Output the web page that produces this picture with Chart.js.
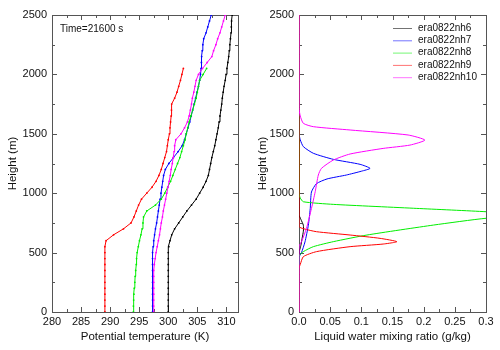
<!DOCTYPE html>
<html>
<head>
<meta charset="utf-8">
<script src="https://cdn.jsdelivr.net/npm/chart.js@4"></script>
<style>
  body { margin: 0; background: #fff; }
  #wrap { position: relative; width: 500px; height: 350px; }
  #wrap canvas { position: absolute; top: 0; }
</style>
</head>
<body>
<div id="wrap">
  <canvas id="thetaChart" width="250" height="350" style="left:0"></canvas>
  <canvas id="qlChart" width="250" height="350" style="left:250px"></canvas>
</div>
<script>
// runs, same colour in both panels
const runNames = ['era0822nh6', 'era0822nh7', 'era0822nh8', 'era0822nh9', 'era0822nh10'];
const runColors = ['#000000', '#0000ff', '#00ee00', '#ff0000', '#ff00ff'];
const timeLabel = 'Time=21600 s';

// left panel: model levels (m) and potential temperature (K)
const levels = [0, 50, 100, 150, 200, 250, 300, 350, 400, 450, 500, 550, 600, 650, 700, 750, 800, 850, 900, 950,
  1000, 1050, 1100, 1150, 1200, 1250, 1300, 1350, 1400, 1450, 1500, 1550, 1600, 1650, 1700, 1750, 1800, 1850, 1900, 1950,
  2000, 2050, 2100, 2150, 2200, 2250, 2300, 2350, 2400, 2450, 2500];
const thetaNh6 = [300.0, 300.0, 300.0, 300.0, 300.0, 300.0, 300.0, 300.0, 300.0, 300.0, 300.0,
  300.1, 300.3, 300.6, 301.1, 301.8, 302.5, 303.2, 304.0, 304.8, 305.4,
  306.0, 306.5, 306.9, 307.1, 307.3, 307.5, 307.75, 308.0, 308.2, 308.4,
  308.6, 308.75, 308.9, 309.05, 309.2, 309.3, 309.45, 309.6, 309.8, 309.95,
  310.1, 310.25, 310.4, 310.5, 310.6, 310.7, 310.8, 310.85, 310.9, 311.0];
const thetaNh7 = [297.3, 297.3, 297.3, 297.3, 297.3, 297.3, 297.3, 297.3, 297.3, 297.3, 297.3,
  297.4, 297.5, 297.65, 297.8, 298.0, 298.15, 298.3, 298.45, 298.6, 298.75,
  298.9, 299.05, 299.2, 299.5, 300.1, 300.9, 301.7, 302.4, 302.8, 303.1,
  303.4, 303.7, 303.95, 304.2, 304.45, 304.7, 304.95, 305.2, 305.4, 305.55,
  305.65, 305.7, 305.75, 305.85, 305.95, 306.1, 306.5, 306.8, 307.1, 307.4];
const thetaNh8 = [294.0, 294.0, 294.05, 294.1, 294.15, 294.25, 294.3, 294.4, 294.5, 294.55, 294.65,
  294.85, 295.05, 295.3, 295.5, 295.65, 295.75, 296.3, 297.8, 298.8, 299.4,
  299.9, 300.4, 300.8, 301.2, 301.6, 302.0, 302.3, 302.6, 302.9, 303.1,
  303.35, 303.6, 303.9, 304.2, 304.5, 304.8, 305.0, 305.2, 305.4, 306.0,
  306.6];
const thetaNh9 = [289.1, 289.1, 289.1, 289.1, 289.1, 289.1, 289.1, 289.1, 289.1, 289.1, 289.1,
  289.1, 289.3, 290.6, 292.3, 293.6, 294.1, 294.5, 294.9, 295.4, 296.3,
  297.2, 297.9, 298.4, 298.8, 299.1, 299.4, 299.7, 299.85, 300.0, 300.2,
  300.3, 300.4, 300.5, 300.55, 300.6, 301.1, 301.5, 301.8, 302.1, 302.35,
  302.6];
const thetaNh10 = [297.5, 297.5, 297.5, 297.5, 297.5, 297.5, 297.5, 297.5, 297.6, 297.75, 297.9,
  298.1, 298.3, 298.5, 298.65, 298.8, 299.0, 299.15, 299.35, 299.55, 299.75,
  299.95, 300.15, 300.35, 300.5, 300.7, 300.85, 301.0, 301.1, 301.3, 302.2,
  302.8, 303.3, 303.6, 303.8, 304.0, 304.15, 304.4, 304.6, 304.8, 305.2,
  305.9, 306.7, 307.5, 307.8, 308.2, 308.5, 308.9, 309.2, 309.5, 309.8];

// right panel: liquid water mixing ratio (g/kg) at heights (m)
const qlNh6H = [0, 480, 520, 560, 620, 680, 730, 780, 820, 2500];
const qlNh6 = [0, 0, 0.001, 0.003, 0.005, 0.007, 0.007, 0.003, 0, 0];
const qlNh7H = [0, 460, 500, 590, 730, 870, 1010, 1080, 1120, 1153, 1185, 1209, 1243, 1285, 1336, 1392, 1450, 1504, 2500];
const qlNh7 = [0, 0, 0.004, 0.0096, 0.015, 0.018, 0.020, 0.028, 0.045, 0.076, 0.100, 0.114, 0.098, 0.055, 0.023, 0.007, 0.002, 0, 0];
const qlNh8H = [0, 470, 508, 550, 592, 648, 732, 789, 815, 844, 872, 906, 928, 960, 1000, 2500];
const qlNh8 = [0, 0, 0.007, 0.023, 0.055, 0.109, 0.216, 0.30, 0.38, 0.30, 0.189, 0.055, 0.007, 0.002, 0, 0];
const qlNh9H = [0, 370, 400, 466, 508, 550, 572, 592, 620, 648, 676, 700, 720, 2500];
const qlNh9 = [0, 0, 0.002, 0.007, 0.028, 0.082, 0.135, 0.157, 0.13, 0.082, 0.028, 0.008, 0, 0];
const qlNh10H = [0, 550, 592, 704, 872, 1013, 1153, 1209, 1279, 1330, 1377, 1405, 1447, 1490, 1532, 1560, 1588, 1650, 1720, 2500];
const qlNh10 = [0, 0, 0.004, 0.012, 0.020, 0.026, 0.031, 0.036, 0.055, 0.082, 0.135, 0.178, 0.202, 0.175, 0.082, 0.023, 0.007, 0.002, 0, 0];

const FONT = '"Liberation Sans", Arial, sans-serif';
const thetaSeries = [thetaNh6, thetaNh7, thetaNh8, thetaNh9, thetaNh10];
const qlSeries = [[qlNh6H, qlNh6], [qlNh7H, qlNh7], [qlNh8H, qlNh8], [qlNh9H, qlNh9], [qlNh10H, qlNh10]];

// box round the plot with inward major/minor ticks on all four sides (gnuplot look)
const framePlugin = {
  id: 'frame',
  beforeDatasetsDraw(chart, args, opts) {
    const ctx = chart.ctx, a = chart.chartArea;
    const x = chart.scales.x, y = chart.scales.y;
    ctx.save();
    ctx.strokeStyle = '#555';
    ctx.lineWidth = 1;
    ctx.strokeRect(Math.round(a.left) + 0.5, Math.round(a.top) + 0.5, Math.round(a.width), Math.round(a.height));
    ctx.beginPath();
    for (let i = 0; x.min + i * opts.xMinor <= x.max + 1e-9; i++) {
      const px = Math.round(x.getPixelForValue(x.min + i * opts.xMinor)) + 0.5;
      const len = i % 2 ? 3 : 5;
      ctx.moveTo(px, a.bottom); ctx.lineTo(px, a.bottom - len);
      ctx.moveTo(px, a.top); ctx.lineTo(px, a.top + len);
    }
    for (let i = 0; y.min + i * opts.yMinor <= y.max + 1e-9; i++) {
      const py = Math.round(y.getPixelForValue(y.min + i * opts.yMinor)) + 0.5;
      const len = i % 2 ? 3 : 5;
      ctx.moveTo(a.left, py); ctx.lineTo(a.left + len, py);
      ctx.moveTo(a.right, py); ctx.lineTo(a.right - len, py);
    }
    ctx.stroke();
    ctx.restore();
  },
  afterDraw(chart, args, opts) {
    const ctx = chart.ctx, a = chart.chartArea;
    ctx.save();
    ctx.fillStyle = '#111';
    ctx.font = '10px ' + FONT;
    ctx.textBaseline = 'middle';
    if (opts.note) {
      ctx.fillText(opts.note, a.left + 8, a.top + 14);
    }
    if (opts.legend) {
      chart.data.datasets.forEach((ds, i) => {
        const yy = a.top + 13 + i * 12.3;
        ctx.strokeStyle = ds.borderColor;
        ctx.globalAlpha = 0.55;
        ctx.beginPath();
        ctx.moveTo(a.right - 93, yy + 0.5); ctx.lineTo(a.right - 74, yy + 0.5);
        ctx.stroke();
        ctx.globalAlpha = 1;
        ctx.fillText(ds.label, a.right - 68, yy);
      });
    }
    ctx.restore();
  }
};

function makeOptions(xMin, xMax, xStep, xTitle, yWidth, padRight, tickFmt, extra) {
  return {
    responsive: false,
    animation: false,
    events: [],
    layout: { padding: { top: 15, right: padRight, left: 0, bottom: 0 } },
    scales: {
      x: {
        type: 'linear', min: xMin, max: xMax,
        grid: { display: false, drawTicks: false, tickLength: 0 }, border: { display: false },
        ticks: { stepSize: xStep, includeBounds: false, padding: 3, color: '#111', maxRotation: 0,
                 autoSkip: false, font: { family: FONT, size: 11 }, callback: tickFmt },
        title: { display: true, text: xTitle, color: '#111', font: { family: FONT, size: 11.5 },
                 padding: { top: 0, bottom: 6 } },
        afterFit(s) { s.height = 38; }
      },
      y: {
        type: 'linear', min: 0, max: 2500,
        grid: { display: false, drawTicks: false, tickLength: 0 }, border: { display: false },
        ticks: { stepSize: 500, padding: 5, color: '#111', font: { family: FONT, size: 11 },
                 callback: v => String(v) },
        title: { display: true, text: 'Height (m)', color: '#111', font: { family: FONT, size: 11.5 },
                 padding: { top: 6, bottom: 0 } },
        afterFit(s) { s.width = yWidth; }
      }
    },
    plugins: { legend: { display: false }, tooltip: { enabled: false }, frame: extra }
  };
}

const thetaSets = thetaSeries.map((vals, i) => ({
  label: runNames[i],
  data: vals.map((v, k) => ({ x: v, y: levels[k] })),
  showLine: true,
  borderColor: runColors[i],
  backgroundColor: runColors[i],
  borderWidth: 1,
  pointRadius: 0.9,
  pointBorderWidth: 0,
  order: runNames.length - i
}));

new Chart(document.getElementById('thetaChart'), {
  type: 'scatter',
  data: { datasets: thetaSets },
  options: makeOptions(280, 312, 5, 'Potential temperature (K)', 52, 12, v => v,
    { xMinor: 2.5, yMinor: 250, note: timeLabel }),
  plugins: [framePlugin]
});

const qlSets = qlSeries.map(([hs, qs], i) => ({
  label: runNames[i],
  data: qs.map((v, k) => ({ x: v, y: hs[k] })),
  showLine: true,
  borderColor: runColors[i],
  backgroundColor: runColors[i],
  borderWidth: 1,
  pointRadius: 0,
  tension: 0.2,
  order: runNames.length - i
}));

new Chart(document.getElementById('qlChart'), {
  type: 'scatter',
  data: { datasets: qlSets },
  options: makeOptions(0, 0.3, 0.05, 'Liquid water mixing ratio (g/kg)', 49, 14,
    v => (v === 0 ? '0.0' : String(+v.toFixed(2))),
    { xMinor: 0.025, yMinor: 250, legend: true }),
  plugins: [framePlugin]
});
</script>
</body>
</html>
